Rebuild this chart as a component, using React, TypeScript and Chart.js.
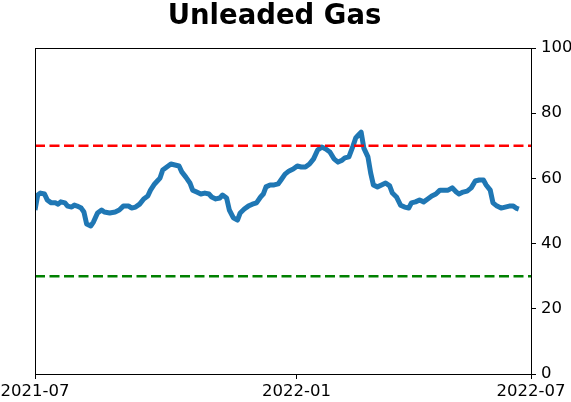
import React, { useEffect, useRef } from 'react';
import { Chart, registerables } from 'chart.js';

Chart.register(...registerables);

const chartTitle = 'Unleaded Gas';

// x position of each point (days since 2021-07 tick), and the indicator value
const days = [
  0, 2, 4, 7, 9, 12, 15, 17, 19, 22, 24, 27, 29, 31, 34, 36, 38, 41, 43, 46,
  49, 51, 55, 59, 62, 65, 69, 71, 74, 77, 80, 83, 85, 88, 90, 92, 94, 97, 100, 103,
  106, 108, 111, 114, 116, 119, 122, 125, 128, 130, 133, 136, 138, 141, 143, 146, 149, 151, 154, 157,
  160, 163, 166, 168, 170, 173, 176, 179, 181, 184, 187, 190, 193, 196, 199, 202, 205, 208, 211, 214,
  217, 220, 223, 226, 228, 231, 234, 236, 238, 240, 242, 245, 247, 249, 252, 255, 258, 261, 263, 266,
  269, 272, 275, 277, 280, 283, 286, 289, 292, 295, 298, 301, 304, 307, 310, 312, 315, 318, 321, 324,
  327, 330, 332, 335, 337, 340, 343, 346, 349, 352, 354, 356,
];
const values = [
  50.3, 54.9, 55.5, 55.2, 53.4, 52.5, 52.5, 52.1, 52.8, 52.5, 51.5, 51.2, 51.8, 51.5, 50.9, 49.7, 46.0, 45.4, 46.6, 49.4,
  50.3, 49.7, 49.4, 49.7, 50.3, 51.5, 51.5, 50.9, 51.2, 52.1, 53.7, 54.6, 56.4, 58.3, 59.2, 60.1, 62.6, 63.5, 64.4, 64.1,
  63.8, 62.0, 60.4, 58.6, 56.4, 55.8, 55.2, 55.5, 55.2, 54.3, 53.7, 54.0, 54.9, 54.0, 50.3, 47.9, 47.2, 49.4, 50.6, 51.5,
  52.1, 52.5, 54.3, 55.2, 57.4, 58.0, 58.0, 58.3, 59.5, 61.3, 62.3, 62.9, 63.8, 63.5, 63.5, 64.4, 66.0, 68.7, 69.6, 69.0,
  68.1, 66.0, 65.0, 65.6, 66.3, 66.6, 69.9, 72.4, 73.3, 74.2, 69.3, 66.6, 61.7, 58.0, 57.4, 58.0, 58.6, 57.7, 55.5, 54.3,
  51.8, 51.2, 50.9, 52.5, 52.8, 53.4, 52.8, 53.7, 54.6, 55.2, 56.4, 56.4, 56.4, 57.1, 55.8, 55.2, 55.8, 56.1, 57.1, 59.2,
  59.5, 59.5, 58.0, 56.4, 52.5, 51.5, 50.9, 51.2, 51.5, 51.5, 50.9, 50.6,
];

const upperThreshold = 70;
const lowerThreshold = 30;

const xMin = 0;
const xMax = 365;
const xTickValues = [0, 192.5, 365];
const xTickLabels = ['2021-07', '2022-01', '2022-07'];

const yMin = 0;
const yMax = 100;
const yStep = 20;

const FONT = 'DejaVu Sans';

const framePlugin = {
  id: 'frame',
  afterDraw(chart: any) {
    const { ctx, chartArea } = chart;
    ctx.save();
    ctx.strokeStyle = '#000';
    ctx.lineWidth = 1;
    ctx.strokeRect(
      Math.round(chartArea.left) + 0.5,
      Math.round(chartArea.top) + 0.5,
      Math.round(chartArea.right) - Math.round(chartArea.left),
      Math.round(chartArea.bottom) - Math.round(chartArea.top)
    );
    ctx.restore();
  },
};

const titlePlugin = {
  id: 'customTitle',
  afterDraw(chart: any) {
    const { ctx } = chart;
    ctx.save();
    ctx.fillStyle = '#000';
    ctx.font = `bold 27.5px "${FONT}"`;
    ctx.textAlign = 'center';
    ctx.textBaseline = 'alphabetic';
    ctx.fillText(chartTitle, 274.5, 24);
    ctx.restore();
  },
};

export default function App() {
  const ref = useRef<HTMLCanvasElement | null>(null);

  useEffect(() => {
    document.body.style.margin = '0';
    if (!ref.current) return;
    const line = (v: number) => [
      { x: xMin, y: v },
      { x: xMax, y: v },
    ];
    const chart = new Chart(ref.current, {
      type: 'line',
      data: {
        datasets: [
          {
            data: line(upperThreshold),
            borderColor: '#ff0000',
            borderWidth: 2.6,
            borderDash: [10, 4.5],
            pointRadius: 0,
            fill: false,
          },
          {
            data: line(lowerThreshold),
            borderColor: '#008000',
            borderWidth: 2.6,
            borderDash: [10, 4.5],
            pointRadius: 0,
            fill: false,
          },
          {
            data: days.map((d, i) => ({ x: d, y: values[i] })),
            borderColor: '#1f77b4',
            borderWidth: 5,
            borderJoinStyle: 'round',
            borderCapStyle: 'butt',
            pointRadius: 0,
            tension: 0,
            fill: false,
          },
        ],
      },
      options: {
        responsive: false,
        animation: false,
        devicePixelRatio: 1,
        layout: { padding: { top: 48, left: 35, right: 0, bottom: 0 } },
        plugins: {
          legend: { display: false },
          tooltip: { enabled: false },
          title: { display: false },
        },
        scales: {
          x: {
            type: 'linear',
            position: 'bottom',
            min: xMin,
            max: xMax,
            afterBuildTicks: (s: any) => {
              s.ticks = xTickValues.map((v) => ({ value: v }));
            },
            afterFit: (s: any) => {
              s.height = 28;
              s.paddingLeft = 0;
              s.paddingRight = 0;
            },
            ticks: {
              autoSkip: false,
              maxRotation: 0,
              padding: 3,
              color: '#000',
              font: { family: FONT, size: 16.5 },
              callback: (v: any) => {
                const i = xTickValues.indexOf(Number(v));
                return i >= 0 ? xTickLabels[i] : '';
              },
            },
            grid: {
              drawOnChartArea: false,
              drawTicks: true,
              tickLength: 5,
              color: '#000',
              lineWidth: 1,
            },
            border: { display: false },
          },
          y: {
            type: 'linear',
            position: 'right',
            min: yMin,
            max: yMax,
            afterFit: (s: any) => {
              s.width = 40;
              s.paddingTop = 0;
              s.paddingBottom = 0;
            },
            ticks: {
              stepSize: yStep,
              padding: 5,
              color: '#000',
              font: { family: FONT, size: 16.5 },
            },
            grid: {
              drawOnChartArea: false,
              drawTicks: true,
              tickLength: 5,
              color: '#000',
              lineWidth: 1,
            },
            border: { display: false },
          },
        },
      },
      plugins: [framePlugin, titlePlugin],
    });
    return () => chart.destroy();
  }, []);

  return (
    <div style={{ width: 571, height: 402 }}>
      <canvas ref={ref} width={571} height={402} />
    </div>
  );
}
